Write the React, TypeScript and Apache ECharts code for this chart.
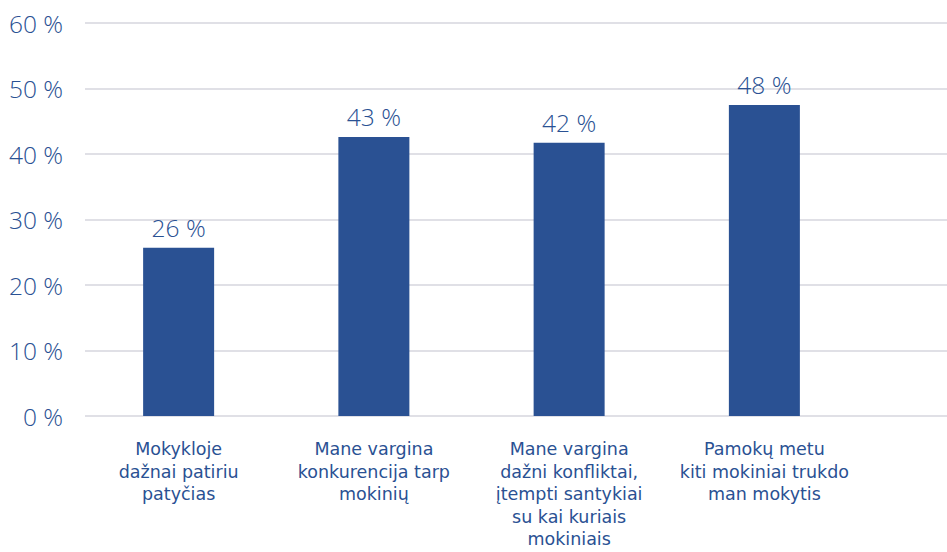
import React, { useEffect, useRef } from "react";
import * as echarts from "echarts";

const categories = [
  "Mokykloje\ndažnai patiriu\npatyčias",
  "Mane vargina\nkonkurencija tarp\nmokinių",
  "Mane vargina\ndažni konfliktai,\nįtempti santykiai\nsu kai kuriais\nmokiniais",
  "Pamokų metu\nkiti mokiniai trukdo\nman mokytis",
];
const values = [25.7, 42.6, 41.7, 47.5];
const yMin = 0;
const yMax = 60;
const yStep = 10;

const BLUE = "#2a5193";
const FONT = "'Open Sans', Lato, 'Noto Sans', sans-serif";
const LABEL_FONT = "'DejaVu Sans', 'Open Sans', sans-serif";

export default function App() {
  const ref = useRef<HTMLDivElement>(null);
  useEffect(() => {
    document.body.style.margin = "0";
    const chart = echarts.init(ref.current!, null, { renderer: "svg" });
    chart.setOption({
      animation: false,
      backgroundColor: "#ffffff",
      grid: [
        { left: 81, right: 85, top: 23, bottom: 136 },
        { left: 85, right: 0, top: 23, bottom: 136 },
      ],
      xAxis: [
        {
          type: "category",
          gridIndex: 0,
          data: categories,
          axisLine: { show: false },
          axisTick: { show: false },
          axisLabel: {
            color: BLUE,
            fontFamily: LABEL_FONT,
            fontSize: 17.5,
            lineHeight: 22.5,
            margin: 22,
            interval: 0,
            align: "center",
            verticalAlign: "top",
          },
        },
        { type: "value", gridIndex: 1, show: false, min: 0, max: 1 },
      ],
      yAxis: [
        {
          type: "value",
          gridIndex: 0,
          min: yMin,
          max: yMax,
          interval: yStep,
          axisLine: { show: false },
          axisTick: { show: false },
          splitLine: { show: false },
          axisLabel: {
            formatter: "{value} %",
            color: BLUE,
            fontFamily: FONT,
            fontWeight: 300,
            fontSize: 24.5,
            margin: 18,
          },
        },
        {
          type: "value",
          gridIndex: 1,
          min: yMin,
          max: yMax,
          interval: yStep,
          axisLine: { show: false },
          axisTick: { show: false },
          axisLabel: { show: false },
          splitLine: { show: true, lineStyle: { color: "#e0e0e6", width: 2 } },
        },
      ],
      series: [
        {
          type: "bar",
          xAxisIndex: 0,
          yAxisIndex: 0,
          data: values,
          barWidth: 71,
          itemStyle: { color: BLUE },
          label: {
            show: true,
            position: "top",
            distance: 8,
            formatter: (p: any) => Math.round(p.value) + " %",
            color: BLUE,
            fontFamily: FONT,
            fontWeight: 300,
            fontSize: 24.5,
          },
        },
      ],
    });
    return () => chart.dispose();
  }, []);
  return <div ref={ref} style={{ width: 947, height: 552 }} />;
}
